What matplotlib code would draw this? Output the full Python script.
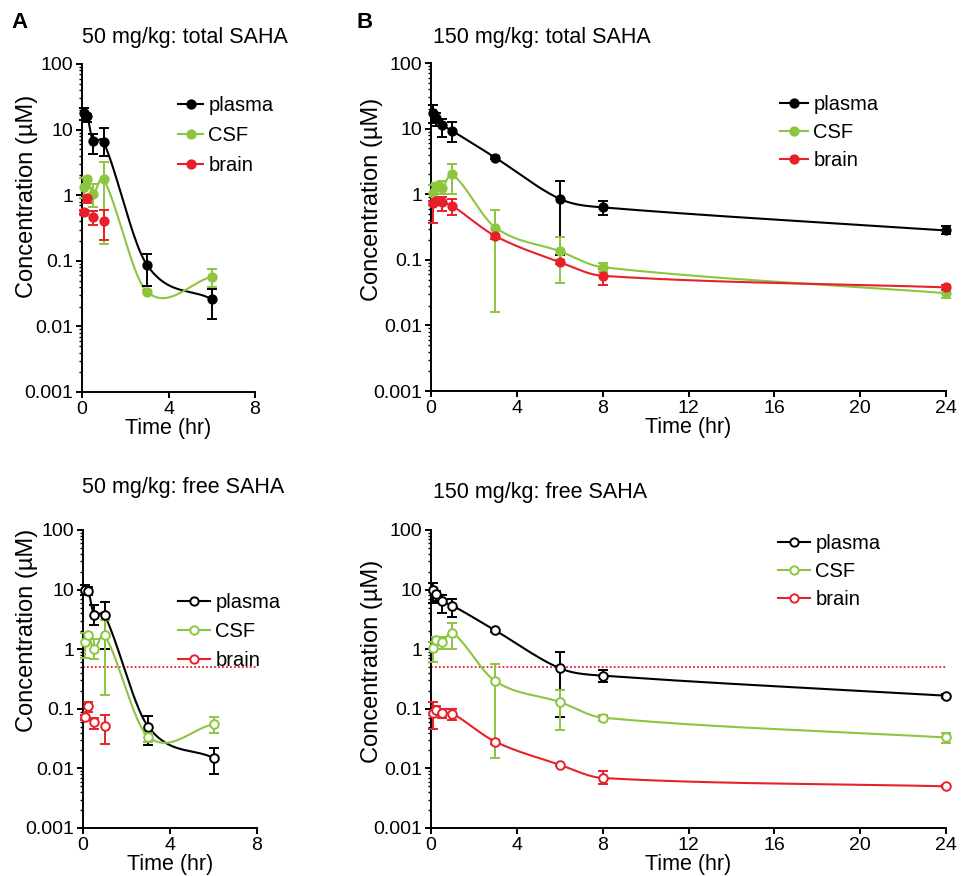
import numpy as np
import matplotlib
matplotlib.use("Agg")
import matplotlib.pyplot as plt
from matplotlib.lines import Line2D
from matplotlib.ticker import LogLocator, FixedLocator, FuncFormatter, NullFormatter

plt.rcParams['font.family'] = ['Liberation Sans', 'DejaVu Sans']

BLACK = "#000000"
GREEN = "#8cc63f"
RED = "#e8202a"

# sampling times (hr)
t50 = [0.083, 0.25, 0.5, 1, 3, 6]
t150 = [0.083, 0.25, 0.5, 1, 3, 6, 8, 24]
t50_brain = [0.083, 0.25, 0.5, 1]

# 50 mg/kg, total SAHA (uM): mean, lower bar, upper bar
plasma_tot50 = [18, 16, 6.7, 6.5, 0.087, 0.026]
plasma_tot50_lo = [14, 13, 4.2, 4.0, 0.041, 0.013]
plasma_tot50_hi = [21, 17, 8.5, 10.7, 0.128, 0.037]
csf_tot50 = [1.35, 1.75, 1.05, 1.75, 0.034, 0.057]
csf_tot50_lo = [0.9, 1.3, 0.65, 0.18, 0.032, 0.04]
csf_tot50_hi = [1.8, 1.9, 1.5, 3.2, 0.036, 0.074]
brain_tot50 = [0.56, 0.9, 0.47, 0.4]
brain_tot50_lo = [0.52, 0.75, 0.35, 0.21]
brain_tot50_hi = [0.6, 0.97, 0.58, 0.6]

# 50 mg/kg, free SAHA
plasma_free50 = [9.9, 9.3, 3.8, 3.7, 0.05, 0.015]
plasma_free50_lo = [8, 8, 2.5, 1.0, 0.025, 0.008]
plasma_free50_hi = [12, 11, 5.5, 6.3, 0.075, 0.022]
csf_free50 = [1.3, 1.7, 1.0, 1.7, 0.034, 0.055]
csf_free50_lo = [0.7, 1.5, 0.68, 0.17, 0.028, 0.04]
csf_free50_hi = [1.9, 1.9, 1.5, 3.1, 0.04, 0.072]
brain_free50 = [0.072, 0.11, 0.059, 0.052]
brain_free50_lo = [0.065, 0.09, 0.045, 0.026]
brain_free50_hi = [0.08, 0.13, 0.07, 0.078]

# 150 mg/kg, total SAHA
plasma_tot150 = [17, 14.5, 11.5, 9.2, 3.6, 0.85, 0.63, 0.28]
plasma_tot150_lo = [12, 11, 7.5, 6.3, 3.4, 0.12, 0.48, 0.25]
plasma_tot150_hi = [23, 17, 14, 12.5, 3.8, 1.6, 0.78, 0.33]
csf_tot150 = [1.05, 1.35, 1.25, 2.0, 0.31, 0.135, 0.077, 0.031]
csf_tot150_lo = [0.65, 1.2, 1.0, 1.0, 0.016, 0.044, 0.065, 0.026]
csf_tot150_hi = [1.4, 1.5, 1.6, 2.9, 0.58, 0.22, 0.09, 0.038]
brain_tot150 = [0.73, 0.78, 0.75, 0.66, 0.23, 0.092, 0.057, 0.038]
brain_tot150_lo = [0.37, 0.7, 0.55, 0.48, 0.21, 0.085, 0.042, 0.035]
brain_tot150_hi = [0.8, 0.85, 0.9, 0.85, 0.25, 0.1, 0.072, 0.042]

# 150 mg/kg, free SAHA
plasma_free150 = [9.9, 8.3, 6.4, 5.4, 2.06, 0.48, 0.36, 0.166]
plasma_free150_lo = [6, 6.5, 4.0, 3.5, 1.95, 0.074, 0.28, 0.15]
plasma_free150_hi = [13, 9.5, 8, 7, 2.2, 0.91, 0.44, 0.18]
csf_free150 = [1.04, 1.4, 1.3, 1.9, 0.29, 0.13, 0.071, 0.033]
csf_free150_lo = [0.6, 1.2, 1.0, 1.0, 0.015, 0.044, 0.063, 0.027]
csf_free150_hi = [1.3, 1.6, 1.6, 2.8, 0.56, 0.21, 0.08, 0.04]
brain_free150 = [0.086, 0.094, 0.085, 0.083, 0.028, 0.0115, 0.0069, 0.005]
brain_free150_lo = [0.045, 0.085, 0.07, 0.065, 0.026, 0.011, 0.0055, 0.0048]
brain_free150_hi = [0.13, 0.11, 0.1, 0.1, 0.03, 0.012, 0.009, 0.0052]

threshold = 0.5
yticks = [0.001, 0.01, 0.1, 1, 10, 100]
series_names = ["plasma", "CSF", "brain"]

W, H = 961, 876
fig = plt.figure(figsize=(W / 100, H / 100), dpi=100)


def px_axes(left, top, right, bottom):
    return fig.add_axes([left / W, 1 - bottom / H, (right - left) / W, (bottom - top) / H])


def smooth(x, y, n=40):
    """Catmull-Rom style cubic through the points, in log10(y)."""
    x = np.asarray(x, float)
    ly = np.log10(np.asarray(y, float))
    k = len(x)
    m = np.empty(k)
    m[0] = (ly[1] - ly[0]) / (x[1] - x[0])
    m[-1] = (ly[-1] - ly[-2]) / (x[-1] - x[-2])
    m[1:-1] = (ly[2:] - ly[:-2]) / (x[2:] - x[:-2])
    xs_all, ys_all = [], []
    for i in range(k - 1):
        h = x[i + 1] - x[i]
        s = np.linspace(0, 1, n)
        h00 = 2 * s ** 3 - 3 * s ** 2 + 1
        h10 = s ** 3 - 2 * s ** 2 + s
        h01 = -2 * s ** 3 + 3 * s ** 2
        h11 = s ** 3 - s ** 2
        p = h00 * ly[i] + h10 * h * m[i] + h01 * ly[i + 1] + h11 * h * m[i + 1]
        xs_all.append(x[i] + s * h)
        ys_all.append(p)
    return np.concatenate(xs_all), 10 ** np.concatenate(ys_all)


def draw(ax, t, y, lo, hi, color, hollow, line=True):
    y = np.asarray(y)
    err = [y - np.asarray(lo), np.asarray(hi) - y]
    if line:
        xs, ys = smooth(t, y)
        ax.plot(xs, ys, color=color, lw=1.5, clip_on=False, zorder=2)
    ax.errorbar(t, y, yerr=err, fmt="none", ecolor=color, elinewidth=1.4,
                capsize=3.3, capthick=1.4, clip_on=False, zorder=3)
    ax.plot(t, y, "o", ms=6 if not hollow else 6.2, mfc="white" if hollow else color,
            mec=color, mew=1.4, ls="none", clip_on=False, zorder=4)


def style(ax, xmax, xstep):
    ax.set_yscale("log")
    ax.set_ylim(0.001, 100)
    ax.set_xlim(0, xmax)
    for s in ("top", "right"):
        ax.spines[s].set_visible(False)
    for s in ("left", "bottom"):
        ax.spines[s].set_linewidth(1.4)
    ax.yaxis.set_major_locator(FixedLocator(yticks))
    ax.yaxis.set_major_formatter(FuncFormatter(lambda v, _: "%g" % v))
    ax.yaxis.set_minor_locator(LogLocator(base=10, subs=np.arange(2, 10), numticks=20))
    ax.yaxis.set_minor_formatter(NullFormatter())
    ax.set_xticks(np.arange(0, xmax + 1, xstep))
    ax.tick_params(axis="both", which="major", direction="out", length=4.5, width=1.4,
                   labelsize=14, pad=2)
    ax.tick_params(axis="y", which="minor", direction="out", length=2.5, width=1.0)
    ax.set_xlabel("Time (hr)", fontsize=15.5, labelpad=0)
    ax.set_ylabel("Concentration (\u00b5M)", fontsize=17)


def legend(ax, hollow, x, ytop, hlen, spacing):
    handles = [Line2D([], [], color=c, lw=1.5, marker="o", ms=6,
                      mfc="white" if hollow else c, mec=c, mew=1.4)
               for c in (BLACK, GREEN, RED)]
    ax.legend(handles, series_names, loc="upper left", bbox_to_anchor=(x / W, 1 - ytop / H),
              bbox_transform=fig.transFigure, frameon=False, fontsize=14.5,
              borderpad=0, borderaxespad=0, handlelength=hlen, handletextpad=0.25,
              labelspacing=spacing)


# A, top: 50 mg/kg total
axA1 = px_axes(82, 64, 255, 392)
draw(axA1, t50, plasma_tot50, plasma_tot50_lo, plasma_tot50_hi, BLACK, False)
draw(axA1, t50, csf_tot50, csf_tot50_lo, csf_tot50_hi, GREEN, False)
draw(axA1, t50_brain, brain_tot50, brain_tot50_lo, brain_tot50_hi, RED, False, line=False)
style(axA1, 8, 4)
axA1.yaxis.set_label_coords(-44 / 173, 0.595)
legend(axA1, False, 178, 96, 1.25, 0.55)

# B, top: 150 mg/kg total
axB1 = px_axes(431, 63, 946, 391)
draw(axB1, t150, plasma_tot150, plasma_tot150_lo, plasma_tot150_hi, BLACK, False)
draw(axB1, t150, csf_tot150, csf_tot150_lo, csf_tot150_hi, GREEN, False)
draw(axB1, t150, brain_tot150, brain_tot150_lo, brain_tot150_hi, RED, False)
style(axB1, 24, 4)
axB1.yaxis.set_label_coords(-48 / 515, 0.585)
legend(axB1, False, 780, 95, 1.4, 0.45)

# A, bottom: 50 mg/kg free
axA2 = px_axes(83, 530, 257, 828)
axA2.plot([0, 8], [threshold, threshold], ls=(0, (1, 1.2)), color=RED, lw=1.3, zorder=1)
draw(axA2, t50, plasma_free50, plasma_free50_lo, plasma_free50_hi, BLACK, True)
draw(axA2, t50, csf_free50, csf_free50_lo, csf_free50_hi, GREEN, True)
draw(axA2, t50_brain, brain_free50, brain_free50_lo, brain_free50_hi, RED, True, line=False)
style(axA2, 8, 4)
axA2.yaxis.set_label_coords(-45 / 174, 0.664)
legend(axA2, True, 178, 593, 1.6, 0.5)

# B, bottom: 150 mg/kg free
axB2 = px_axes(431, 530, 946, 828)
axB2.plot([0, 24], [threshold, threshold], ls=(0, (1, 1.2)), color=RED, lw=1.3, zorder=1)
draw(axB2, t150, plasma_free150, plasma_free150_lo, plasma_free150_hi, BLACK, True)
draw(axB2, t150, csf_free150, csf_free150_lo, csf_free150_hi, GREEN, True)
draw(axB2, t150, brain_free150, brain_free150_lo, brain_free150_hi, RED, True)
style(axB2, 24, 4)
axB2.yaxis.set_label_coords(-48 / 515, 0.56)
legend(axB2, True, 778, 534, 1.6, 0.45)

# titles and panel letters
fig.text(82 / W, 1 - 37 / H, "50 mg/kg: total SAHA", fontsize=15.5, va="center", ha="left")
fig.text(433 / W, 1 - 37 / H, "150 mg/kg: total SAHA", fontsize=15.5, va="center", ha="left")
fig.text(82 / W, 1 - 487 / H, "50 mg/kg: free SAHA", fontsize=15.5, va="center", ha="left")
fig.text(433 / W, 1 - 493 / H, "150 mg/kg: free SAHA", fontsize=15.5, va="center", ha="left")
fig.text(11 / W, 1 - 22 / H, "A", fontsize=16, fontweight="bold", va="center", ha="left")
fig.text(357 / W, 1 - 22 / H, "B", fontsize=16, fontweight="bold", va="center", ha="left")

fig.savefig("out.png", dpi=100)
